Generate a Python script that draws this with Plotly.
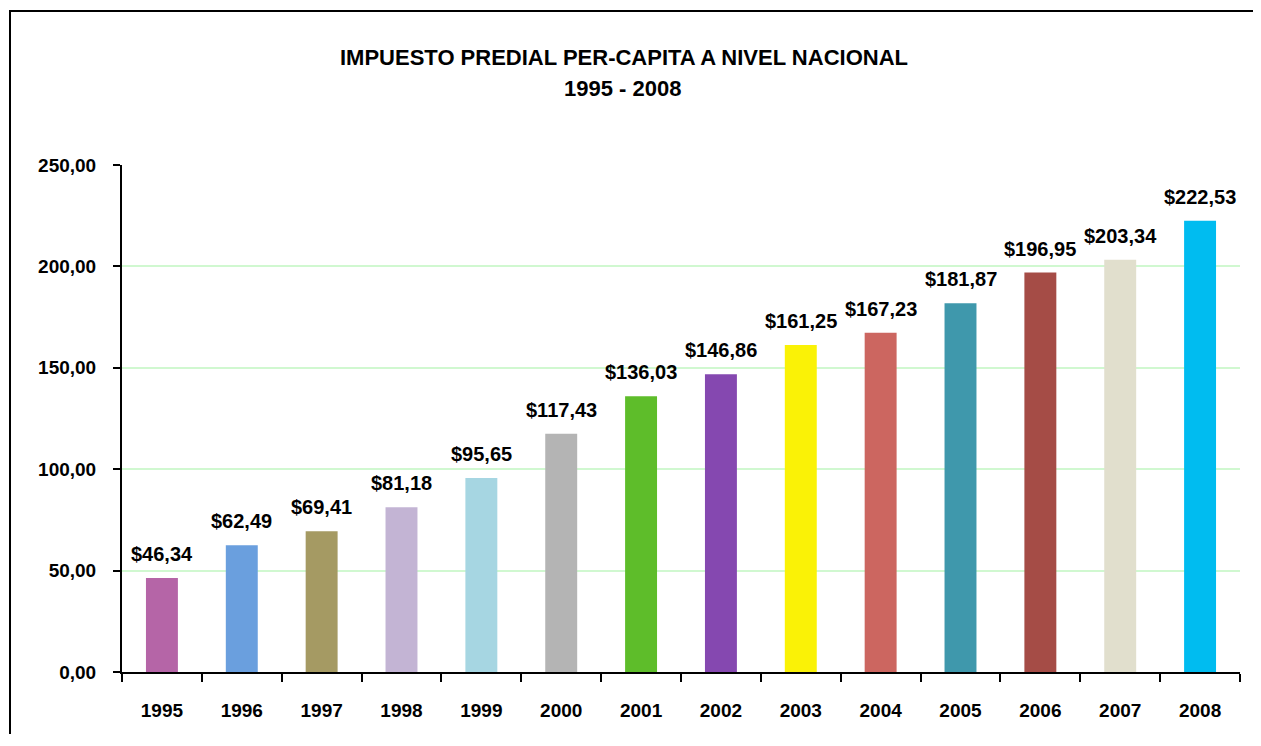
import plotly.graph_objects as go

years = ["1995", "1996", "1997", "1998", "1999", "2000", "2001",
         "2002", "2003", "2004", "2005", "2006", "2007", "2008"]
values = [46.34, 62.49, 69.41, 81.18, 95.65, 117.43, 136.03,
          146.86, 161.25, 167.23, 181.87, 196.95, 203.34, 222.53]
colors = ["#B565A7", "#6A9FDE", "#A59A63", "#C3B4D4", "#A6D6E2", "#B4B4B4", "#5EBD2A",
          "#8548B0", "#FAF206", "#CC6660", "#3F98AC", "#A54C46", "#E1DFCD", "#00BCF0"]
title_line1 = "IMPUESTO PREDIAL PER-CAPITA A NIVEL NACIONAL"
title_line2 = "1995 - 2008"

FONT = "Liberation Sans Narrow, Arial Narrow, Liberation Sans, Arial, sans-serif"

def fmt(v):
    return "$" + f"{v:.2f}".replace(".", ",")

fig = go.Figure(go.Bar(
    x=years, y=values, marker=dict(color=colors, line=dict(width=0)),
    hoverinfo="skip",
))

# page body has an 8px margin in the browser; keep the figure inside the window
OFF = 8
W, H = 1261 - 2 * OFF, 746 - 2 * OFF - 4
L, T = 122 - OFF, 165 - OFF
R = W - (1240 - OFF)
B = H - (672 - OFF)
pw, ph = W - L - R, H - T - B

def px_x(p):
    return (p - OFF - L) / pw

def px_y(p):
    return (H - B - (p - OFF)) / ph

for i, v in enumerate(values):
    fig.add_annotation(x=i, y=v, text="<b>" + fmt(v) + "</b>", showarrow=False,
                       yanchor="middle", xanchor="center", yshift=24,
                       font=dict(family=FONT, size=20, color="black"))

fig.add_annotation(x=px_x(624), y=px_y(57), xref="paper", yref="paper",
                   xanchor="center", yanchor="middle",
                   text="<b>" + title_line1 + "</b>", showarrow=False,
                   font=dict(family=FONT, size=22, color="black"))
fig.add_annotation(x=px_x(622), y=px_y(89), xref="paper", yref="paper",
                   xanchor="center", yanchor="middle",
                   text="<b>" + title_line2 + "</b>", showarrow=False,
                   font=dict(family=FONT, size=22, color="black"))

# outer chart frame (left and top edges; right/bottom lie beyond the picture)
fig.add_shape(type="line", xref="paper", yref="paper",
              x0=px_x(10), x1=px_x(1300), y0=px_y(11), y1=px_y(11),
              line=dict(color="black", width=2))
fig.add_shape(type="line", xref="paper", yref="paper",
              x0=px_x(10), x1=px_x(10), y0=px_y(10), y1=px_y(800),
              line=dict(color="black", width=2))

fig.update_layout(
    width=W, height=H,
    margin=dict(l=L, r=R, t=T, b=B, autoexpand=False),
    plot_bgcolor="white", paper_bgcolor="white",
    bargap=0.6, showlegend=False,
    separators=",.",
    font=dict(family=FONT, size=20, color="black"),
)
fig.update_xaxes(
    type="category", showline=True, linecolor="black", linewidth=2,
    ticks="outside", tickson="boundaries", ticklen=8, tickwidth=2, tickcolor="black",
    ticklabelstandoff=20, showgrid=False, tickangle=0,
    tickfont=dict(family=FONT, size=19, color="black"),
    tickprefix="<b>", ticksuffix="</b>",
)
fig.update_yaxes(
    range=[0, 250], dtick=50, tickformat=".2f",
    showline=True, linecolor="black", linewidth=2,
    ticks="outside", ticklen=7, tickwidth=2, tickcolor="black",
    ticklabelstandoff=13,
    showgrid=True, gridcolor="#D0F8D0", gridwidth=2, zeroline=False,
    tickfont=dict(family=FONT, size=19, color="black"),
    tickprefix="<b>", ticksuffix="</b>",
)

fig.write_html("out.html")
